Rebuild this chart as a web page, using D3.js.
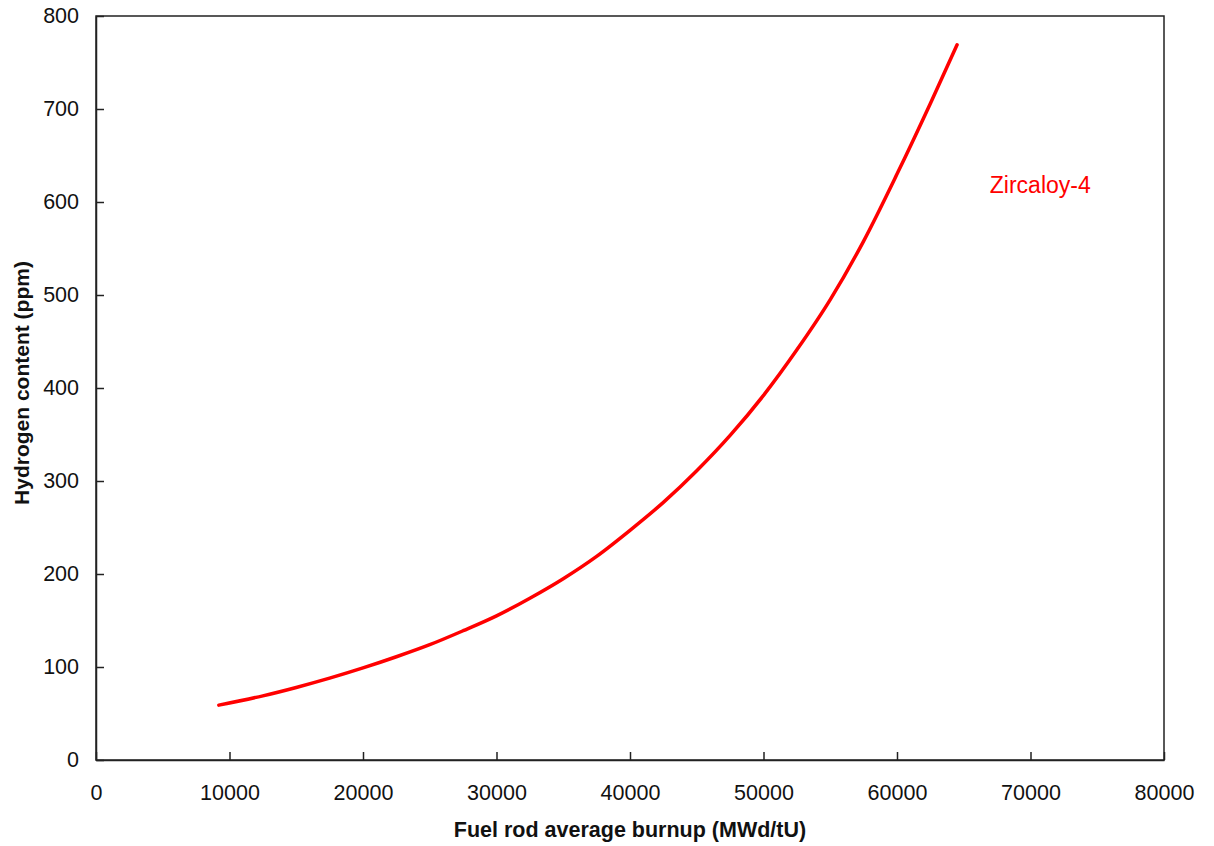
<!DOCTYPE html>
<html>
<head>
<meta charset="utf-8">
<script src="https://cdn.jsdelivr.net/npm/d3@7"></script>
<style>
  html, body { margin: 0; padding: 0; background: #fff; }
  svg { display: block; font-family: "Liberation Sans", Arial, sans-serif; }
</style>
</head>
<body>
<svg id="chart" width="1214" height="846"></svg>
<script>
// Data
const burnup = [9200, 12500, 15000, 17500, 20000, 22500, 25000, 27500, 30000, 32500, 35000, 37500, 40000, 42500, 45000, 47500, 50000, 52500, 55000, 57500, 60000, 62500, 64500];
const hydrogen = [59, 69, 78, 88, 99, 111, 124, 139, 155, 174, 195, 219, 247, 277, 311, 349, 392, 441, 495, 558, 630, 706, 769];
const seriesName = "Zircaloy-4";
const xTicks = [0, 10000, 20000, 30000, 40000, 50000, 60000, 70000, 80000];
const yTicks = [0, 100, 200, 300, 400, 500, 600, 700, 800];
const xTitle = "Fuel rod average burnup (MWd/tU)";
const yTitle = "Hydrogen content (ppm)";

(function () {
const svg = d3.select("#chart");
const mLeft = 96, mRight = 1164, mTop = 16, mBottom = 760;
const fam = "Liberation Sans, Arial, sans-serif";

const x = d3.scaleLinear().domain([0, 80000]).range([mLeft, mRight]);
const y = d3.scaleLinear().domain([0, 800]).range([mBottom, mTop]);

// Frame
svg.append("rect")
  .attr("x", mLeft).attr("y", mTop)
  .attr("width", mRight - mLeft).attr("height", mBottom - mTop)
  .attr("fill", "none").attr("stroke", "#222").attr("stroke-width", 1.5);

// X axis
const xAxis = d3.axisBottom(x).tickValues(xTicks).tickFormat(d3.format("d"))
  .tickSizeInner(-8).tickSizeOuter(0).tickPadding(25);
const gx = svg.append("g").attr("transform", `translate(0,${mBottom})`).call(xAxis);
gx.select(".domain").attr("stroke", "#222").attr("stroke-width", 1.5);
gx.selectAll(".tick line").attr("stroke", "#222").attr("stroke-width", 1.5);
gx.selectAll(".tick text").attr("font-size", 21.5).attr("fill", "#111").attr("font-family", fam);

// Y axis
const yAxis = d3.axisLeft(y).tickValues(yTicks).tickFormat(d3.format("d"))
  .tickSizeInner(-8).tickSizeOuter(0).tickPadding(17);
const gy = svg.append("g").attr("transform", `translate(${mLeft},0)`).call(yAxis);
gy.select(".domain").attr("stroke", "#222").attr("stroke-width", 1.5);
gy.selectAll(".tick line").attr("stroke", "#222").attr("stroke-width", 1.5);
gy.selectAll(".tick text").attr("font-size", 21.5).attr("fill", "#111").attr("font-family", fam);

// Curve
const data = burnup.map((b, i) => ({ b, h: hydrogen[i] }));
svg.append("path")
  .datum(data)
  .attr("fill", "none")
  .attr("stroke", "#ff0000")
  .attr("stroke-width", 3.5)
  .attr("stroke-linecap", "round")
  .attr("d", d3.line().x(d => x(d.b)).y(d => y(d.h)).curve(d3.curveMonotoneX));

// Series label
svg.append("text")
  .attr("x", x(66950)).attr("y", 193)
  .attr("font-size", 23).attr("fill", "#ff0000").attr("font-family", fam)
  .text(seriesName);

// Axis titles
svg.append("text")
  .attr("x", (mLeft + mRight) / 2).attr("y", 837)
  .attr("text-anchor", "middle").attr("font-size", 21.5).attr("font-weight", "bold")
  .attr("fill", "#111").attr("font-family", fam)
  .text(xTitle);

svg.append("text")
  .attr("transform", `translate(29,383) rotate(-90)`)
  .attr("text-anchor", "middle").attr("font-size", 21).attr("font-weight", "bold")
  .attr("fill", "#111").attr("font-family", fam)
  .text(yTitle);
})();
</script>
</body>
</html>
